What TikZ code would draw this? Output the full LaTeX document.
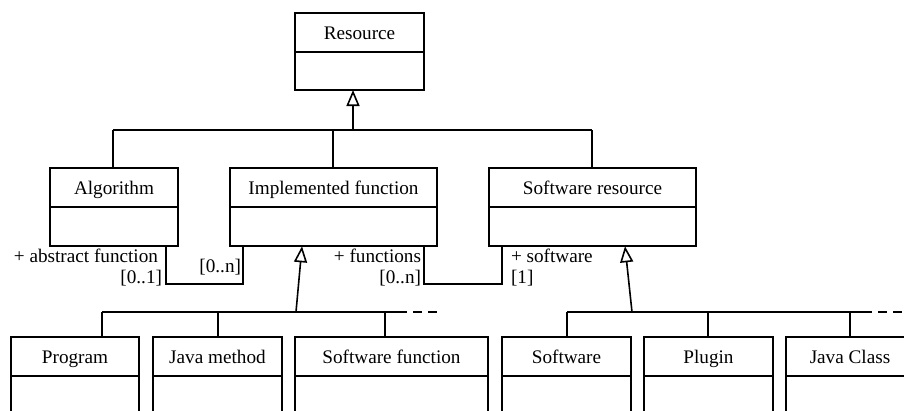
\documentclass[tikz,border=0pt]{standalone}
\usepackage{fontspec}
\setmainfont{Liberation Serif}
\newfontfamily\umlfont{Liberation Serif}
\usetikzlibrary{arrows.meta}
\begin{document}
\begin{tikzpicture}[x=1pt,y=-1pt,
  line width=1.6pt,
  every node/.style={font=\umlfont\fontsize{19.2}{23}\selectfont, inner sep=0pt, outer sep=0pt},
  namebox/.style={draw, rectangle, minimum height=39pt, anchor=center, text height=15pt, text depth=2pt},
  bodybox/.style={draw, rectangle, minimum height=39pt, anchor=north},
  gen/.style={-{Triangle[open, width=13pt, length=16pt, line width=1.6pt]}},
  lbl/.style={font=\umlfont\fontsize{19.2}{23}\selectfont}
]
\clip (0,0) rectangle (904,410);
% Resource
\node[namebox, minimum width=129pt] (res) at (359.5,32.5) {Resource};
\node[bodybox, minimum width=129pt, minimum height=38pt] (resb) at (res.south) {};
% middle row
\node[namebox, minimum width=128pt] (alg) at (114,187.5) {Algorithm};
\node[bodybox, minimum width=128pt] (algb) at (alg.south) {};
\node[namebox, minimum width=207pt] (imp) at (333.5,187.5) {Implemented function};
\node[bodybox, minimum width=207pt] (impb) at (imp.south) {};
\node[namebox, minimum width=207pt] (swr) at (592.5,187.5) {Software resource};
\node[bodybox, minimum width=207pt] (swrb) at (swr.south) {};
% bottom row
\node[namebox, minimum width=128pt] (prg) at (75,356.5) {Program};
\node[bodybox, minimum width=128pt, minimum height=60pt] (prgb) at (prg.south) {};
\node[namebox, minimum width=129pt] (jm) at (217.5,356.5) {Java method};
\node[bodybox, minimum width=129pt, minimum height=60pt] (jmb) at (jm.south) {};
\node[namebox, minimum width=193pt] (sf) at (391.5,356.5) {Software function};
\node[bodybox, minimum width=193pt, minimum height=60pt] (sfb) at (sf.south) {};
\node[namebox, minimum width=129pt] (sw) at (566.5,356.5) {Software};
\node[bodybox, minimum width=129pt, minimum height=60pt] (swb) at (sw.south) {};
\node[namebox, minimum width=129pt] (plg) at (708.5,356.5) {Plugin};
\node[bodybox, minimum width=129pt, minimum height=60pt] (plgb) at (plg.south) {};
\node[namebox, minimum width=128pt] (jc) at (850,356.5) {Java Class};
\node[bodybox, minimum width=128pt, minimum height=60pt] (jcb) at (jc.south) {};
% top generalization tree
\coordinate (tbus) at (353,130);
\coordinate (tl) at (113,130);
\coordinate (tr) at (592,130);
\coordinate (tm) at (333,130);
\draw[gen] (tbus) -- (tbus |- resb.south);
\draw (tl) -- (tr);
\draw (tl) -- (tl |- alg.north);
\draw (tm) -- (tm |- imp.north);
\draw (tr) -- (tr |- swr.north);
% left lower generalization tree
\coordinate (lbus) at (296,312);
\coordinate (ltip) at (302,246.3);
\coordinate (ll) at (102,312);
\coordinate (lm) at (218,312);
\coordinate (lr) at (385,312);
\coordinate (le) at (398,312);
\coordinate (ld) at (438,312);
\draw[gen] (lbus) -- (ltip);
\draw (ll) -- (le);
\draw[dash pattern=on 9pt off 6pt] (le) -- (ld);
\draw (ll) -- (ll |- prg.north);
\draw (lm) -- (lm |- jm.north);
\draw (lr) -- (lr |- sf.north);
% right lower generalization tree
\coordinate (rbus) at (632,312);
\coordinate (rtip) at (625,246.3);
\coordinate (rl) at (567,312);
\coordinate (rm) at (708,312);
\coordinate (rr) at (850,312);
\coordinate (re) at (863,312);
\coordinate (rd) at (904,312);
\draw[gen] (rbus) -- (rtip);
\draw (rl) -- (re);
\draw[dash pattern=on 9pt off 6pt] (re) -- (rd);
\draw (rl) -- (rl |- sw.north);
\draw (rm) -- (rm |- plg.north);
\draw (rr) -- (rr |- jc.north);
% associations
\coordinate (a1) at (166,284);
\coordinate (a2) at (243,284);
\draw (a1 |- algb.south) -- (a1) -- (a2) -- (a2 |- impb.south);
\coordinate (b1) at (424,284);
\coordinate (b2) at (502,284);
\draw (b1 |- impb.south) -- (b1) -- (b2) -- (b2 |- swrb.south);
% labels
\node[lbl, anchor=base east] (l1) at (158,262) {+ abstract function};
\node[lbl, anchor=base east] (l2) at (162,283) {[0..1]};
\node[lbl, anchor=base east] (l3) at (241,272) {[0..n]};
\node[lbl, anchor=base east] (l4) at (421,262) {+ functions};
\node[lbl, anchor=base east] (l5) at (421,283) {[0..n]};
\node[lbl, anchor=base west] (l6) at (511,262) {+ software};
\node[lbl, anchor=base west] (l7) at (511,283) {[1]};
\end{tikzpicture}
\end{document}
